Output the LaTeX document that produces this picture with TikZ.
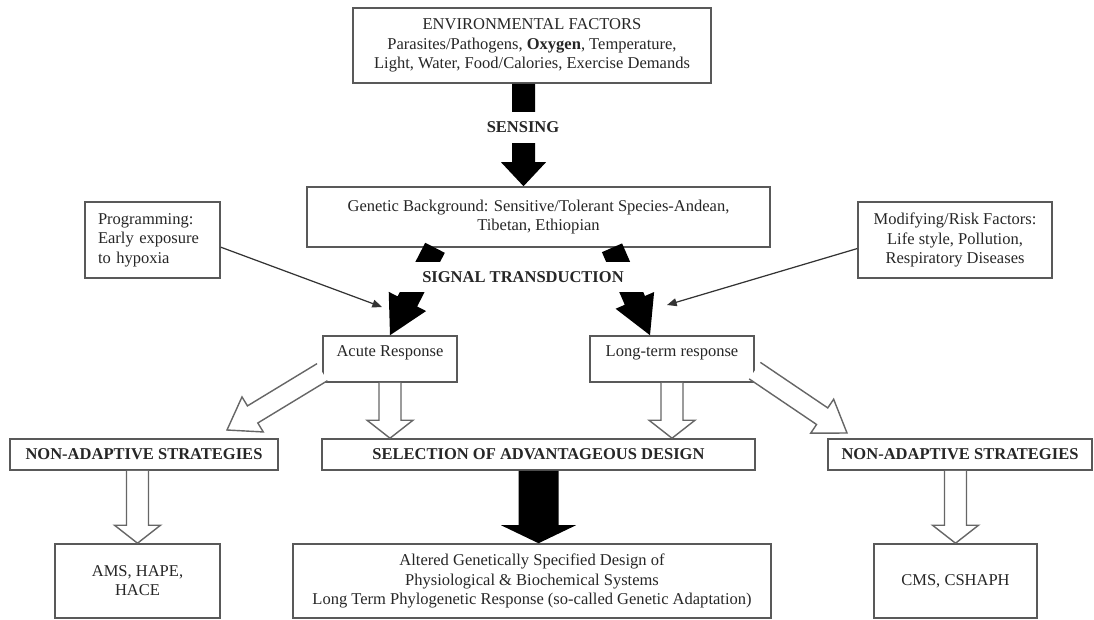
\documentclass[tikz,border=0pt]{standalone}
\usepackage{fontspec}
\setmainfont{Liberation Serif}
\usetikzlibrary{calc,arrows.meta}
\tikzset{
  box/.style={draw=black!65, line width=0.9pt, inner sep=0pt, align=center, text=black!85},
  openarr/.style={draw=black!60, fill=white, line width=0.8pt},
  blackarr/.style={fill=black},
  thinarr/.style={draw=black!80, line width=0.7pt, -{Triangle[length=5.5pt,width=4.5pt]}},
  lbl/.style={fill=white, inner xsep=3pt, inner ysep=0pt, text=black!85, font=\fontsize{9.4}{11}\selectfont\bfseries}
}
\newcommand{\fatarrow}[6][]{%
  \coordinate (fa-h) at ($(#3)!#6!(#2)$);
  \path[#1] ($(#2)!#4!90:(#3)$) -- ($(fa-h)!#4!-90:(#2)$) -- ($(fa-h)!#5!-90:(#2)$) -- (#3)
    -- ($(fa-h)!#5!90:(#2)$) -- ($(fa-h)!#4!90:(#2)$) -- ($(#2)!#4!-90:(#3)$);
}
\begin{document}
\begin{tikzpicture}[x=0.02cm,y=-0.02cm,every node/.style={font=\fontsize{9.4}{11}\selectfont}]
\useasboundingbox (0,0) rectangle (1094,619);

\node[box,minimum width=7.16cm,minimum height=1.5cm] (env) at (532,45.5)
  {ENVIRONMENTAL FACTORS\\Parasites/Pathogens, \textbf{Oxygen}, Temperature,\\Light, Water, Food/Calories, Exercise Demands};
\node[box,minimum width=9.26cm,minimum height=1.2cm] (gen) at (538.5,217)
  {Genetic Background: Sensitive/Tolerant Species-Andean,\\Tibetan, Ethiopian};
\node[box,minimum width=2.7cm,minimum height=1.52cm,text width=2.18cm,inner xsep=0.26cm,align=left] (prog) at (152.5,240)
  {Programming:\\Early exposure\\to hypoxia};
\node[box,minimum width=3.88cm,minimum height=1.52cm] (mod) at (955,240)
  {Modifying/Risk Factors:\\Life style, Pollution,\\Respiratory Diseases};
\node[box,minimum width=2.68cm,minimum height=0.92cm,text depth=9pt] (acute) at (390,359) {Acute Response};
\node[box,minimum width=3.28cm,minimum height=0.92cm,text depth=9pt] (longt) at (672,359) {Long-term response};
\node[box,minimum width=5.36cm,minimum height=0.62cm] (nonL) at (144,454.5) {\textbf{NON-ADAPTIVE STRATEGIES}};
\node[box,minimum width=8.66cm,minimum height=0.62cm] (sel) at (538.5,454.5) {\textbf{SELECTION OF ADVANTAGEOUS DESIGN}};
\node[box,minimum width=5.28cm,minimum height=0.62cm] (nonR) at (960,454.5) {\textbf{NON-ADAPTIVE STRATEGIES}};
\node[box,minimum width=3.3cm,minimum height=1.48cm,text height=17pt] (ams) at (137.5,581) {AMS, HAPE,\\HACE};
\node[box,minimum width=9.56cm,minimum height=1.48cm] (alt) at (532,581)
  {Altered Genetically Specified Design of\\Physiological \& Biochemical Systems\\Long Term Phylogenetic Response (so-called Genetic Adaptation)};
\node[box,minimum width=3.26cm,minimum height=1.48cm] (cms) at (955.5,581) {CMS, CSHAPH};

\coordinate (s1) at ($(env.south)+(-8.5,0)$);
\coordinate (s1e) at (s1 |- gen.north);
\fatarrow[blackarr]{s1}{s1e}{2.3mm}{4.5mm}{4.8mm}
\node[lbl,minimum height=0.62cm] (sens) at (523,127.5) {SENSING};

\coordinate (s2) at ($(gen.south)+(-103.5,0)$);
\coordinate (s3) at ($(gen.south)+(73.5,0)$);
\coordinate (s3e) at ($(longt.north)+(-22,0)$);
\fatarrow[blackarr]{s2}{acute.north}{2.2mm}{4.2mm}{7.6mm}
\fatarrow[blackarr]{s3}{s3e}{2.2mm}{4.2mm}{7.6mm}
\node[lbl,minimum width=5cm,minimum height=0.6cm] (sig) at (523,277) {SIGNAL TRANSDUCTION};

\coordinate (pend) at (382,307);
\coordinate (mend) at (667,305);
\draw[thinarr] (prog.-6) -- (pend);
\draw[thinarr] (mod.185) -- (mend);

\coordinate (t1) at (227,430);
\coordinate (t4) at (847,433);
\coordinate (a2) at (acute.south |- sel.north);
\coordinate (a3) at (longt.south |- sel.north);
\coordinate (a5) at (ams.north |- nonL.south);
\coordinate (a6) at (cms.north |- nonR.south);
\coordinate (b1) at (sel.south |- alt.north);
\fatarrow[openarr]{acute.191}{t1}{2mm}{4.1mm}{6mm}
\fatarrow[openarr]{acute.south}{a2}{2.2mm}{4.6mm}{3.6mm}
\fatarrow[openarr]{longt.south}{a3}{2.2mm}{4.6mm}{3.6mm}
\fatarrow[openarr]{longt.-8}{t4}{2mm}{4.1mm}{6mm}
\fatarrow[openarr]{a5}{ams.north}{2.2mm}{4.6mm}{3.6mm}
\fatarrow[openarr]{a6}{cms.north}{2.2mm}{4.6mm}{3.6mm}
\fatarrow[blackarr]{sel.south}{b1}{4mm}{7.5mm}{3.6mm}
\end{tikzpicture}
\end{document}
